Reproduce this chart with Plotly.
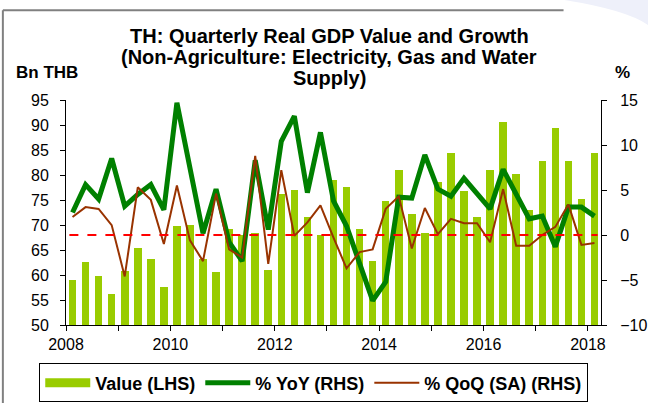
import plotly.graph_objects as go

# ---- data ----
start_year = 2008
value_lhs = [59.0, 62.6, 59.9, 56.25, 60.8, 65.4, 63.3, 57.7, 69.9, 70.0, 63.3, 60.7,
             69.2, 68.0, 68.5, 61.0, 76.3, 77.0, 71.6, 68.0, 79.0, 77.6, 69.2, 62.9,
             74.9, 81.0, 72.2, 68.5, 78.6, 84.5, 76.8, 71.7, 81.0, 90.7, 80.3, 73.0,
             82.75, 89.5, 82.8, 75.2, 84.5]
yoy_rhs = [2.5, 5.6, 4.0, 8.5, 3.2, 4.5, 5.6, 2.8, 14.7, 7.5, 0.2, 5.1,
           -0.8, -2.9, 8.3, 0.6, 10.4, 13.2, 4.7, 11.4, 3.8, 1.0, -3.0, -7.3,
           -5.2, 4.2, 4.1, 8.9, 5.1, 4.3, 6.3, 4.6, 2.9, 7.3, 4.6, 1.8,
           2.1, -1.3, 3.1, 3.1, 2.1]
qoq_rhs = [2.0, 3.1, 2.9, 1.1, -4.6, 5.3, 3.9, -1.0, 5.5, -0.6, -2.9, 4.6,
           -1.6, -2.5, 8.8, -3.2, 7.2, -0.1, 1.4, 3.3, -0.3, -3.7, -1.9, -1.6,
           2.9, 4.3, -1.5, 3.0, 0.1, 1.8, 1.3, 1.3, -0.8, 5.1, -1.2, -1.2,
           0.0, 0.9, 3.4, -1.1, -0.9]
year_ticks = list(range(2008, 2019))
year_labels = [str(y) if y % 2 == 0 else "" for y in year_ticks]
title_lines = ["TH: Quarterly Real GDP Value and Growth",
               "(Non-Agriculture: Electricity, Gas and Water",
               "Supply)"]

# quarter centres in fractional years
dates = [start_year + (i + 0.5) / 4 for i in range(len(value_lhs))]

FONT = "Liberation Sans, Arial, sans-serif"
BAR = "#99cc00"
GREEN = "#008000"
BROWN = "#993300"

fig = go.Figure()
fig.add_trace(go.Bar(x=dates, y=value_lhs, name="Value (LHS)", marker_color=BAR,
                     marker_line_width=0, width=0.145, showlegend=False, yaxis="y"))
# legend swatch for bars (wide rectangle like the original)
fig.add_trace(go.Scatter(x=[None], y=[None], mode="lines", name="<b>Value (LHS)</b>",
                         line=dict(color=BAR, width=9), yaxis="y"))
fig.add_trace(go.Scatter(x=dates, y=yoy_rhs, mode="lines", name="<b>% YoY (RHS)</b>",
                         line=dict(color=GREEN, width=5), yaxis="y2"))
fig.add_trace(go.Scatter(x=dates, y=qoq_rhs, mode="lines", name="<b>% QoQ (SA) (RHS)</b>",
                         line=dict(color=BROWN, width=2), yaxis="y2"))
fig.add_trace(go.Scatter(x=[dates[0] - 0.06, dates[-1] + 0.06], y=[0, 0], mode="lines",
                         line=dict(color="#ff0000", width=2, dash="dash"),
                         showlegend=False, yaxis="y2", hoverinfo="skip"))

axis_common = dict(showgrid=False, zeroline=False, showline=True, linecolor="black",
                   linewidth=1, ticks="outside", ticklen=5, tickcolor="black",
                   tickfont=dict(family=FONT, size=16, color="black"))

# title lines as centred annotations (tight line spacing like the original)
title_y = [1.283, 1.19, 1.097]
annotations = [dict(text="<b>%s</b>" % t, xref="paper", yref="paper", x=0.4925, y=yy,
                    xanchor="center", yanchor="middle", showarrow=False,
                    font=dict(family=FONT, size=20, color="black"))
               for t, yy in zip(title_lines, title_y)]
annotations += [
    dict(text="<b>Bn THB</b>", xref="paper", yref="paper", x=-0.097, y=1.12,
         xanchor="left", yanchor="middle", showarrow=False,
         font=dict(family=FONT, size=17, color="black")),
    dict(text="<b>%</b>", xref="paper", yref="paper", x=1.022, y=1.12,
         xanchor="left", yanchor="middle", showarrow=False,
         font=dict(family=FONT, size=17, color="black")),
]

fig.update_layout(
    width=648, height=403,
    margin=dict(l=66, r=47, t=100, b=78, autoexpand=False),
    paper_bgcolor="white", plot_bgcolor="white",
    bargap=0,
    xaxis=dict(range=[2008, 2018.25], tickvals=year_ticks, ticktext=year_labels,
               **axis_common),
    yaxis=dict(range=[50, 95], dtick=5, tick0=50, ticklabelstandoff=8, **axis_common),
    yaxis2=dict(range=[-10, 15], dtick=5, tick0=-10, overlaying="y", side="right",
                ticklabelstandoff=10, **axis_common),
    legend=dict(orientation="h", x=-0.05, xanchor="left", y=-0.171, yanchor="top",
                bordercolor="black", borderwidth=1, bgcolor="white",
                itemwidth=45, traceorder="normal",
                font=dict(family=FONT, size=18, color="black")),
    annotations=annotations,
    shapes=[
        dict(type="path", xref="paper", yref="paper",
             path="M 0.93 1.445 Q 1.05 1.40 1.09 1.33 L 1.09 1.445 Z",
             fillcolor="#eef0fa", line=dict(width=0), layer="below"),
        dict(type="line", xref="paper", yref="paper", x0=-0.118, x1=-0.118, y0=-0.35, y1=1.399,
             line=dict(color="#808080", width=2)),
        dict(type="line", xref="paper", yref="paper", x0=-0.118, x1=0.93, y0=1.399, y1=1.399,
             line=dict(color="#808080", width=2)),
    ],
)
fig.write_html("out.html", config={"displayModeBar": False},
               post_script="document.body.style.margin='0';document.body.style.overflow='hidden';")
